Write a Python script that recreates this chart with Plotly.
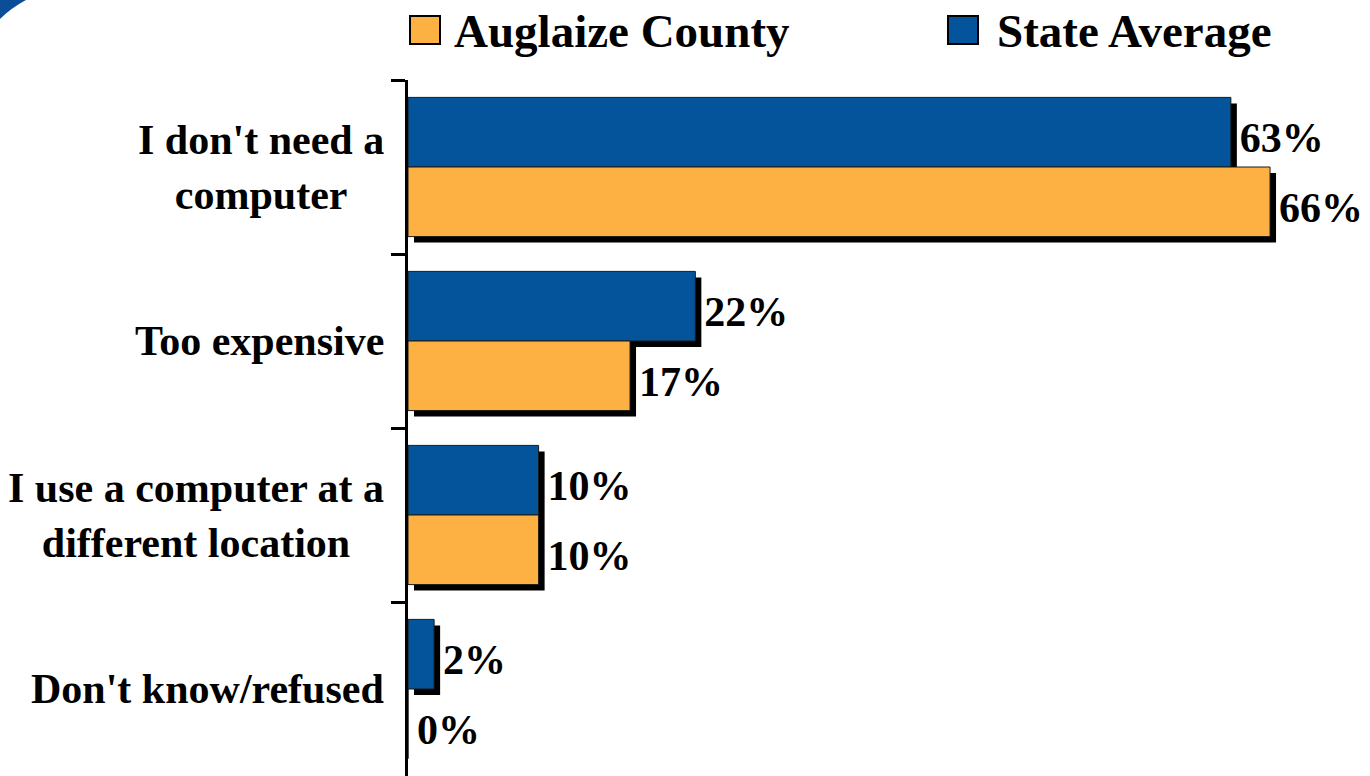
import plotly.graph_objects as go

# ---- data ----
categories = ["I don't need a<br>computer", "Too expensive",
              "I use a computer at a<br>different location", "Don't know/refused"]
state_avg = [63, 22, 10, 2]
auglaize = [66, 17, 10, 0]
series_names = ["Auglaize County", "State Average"]

# ---- style ----
BLUE = "#03549A"
ORANGE = "#FDB142"
FONT = "Liberation Serif"
W, H = 1370, 776
L, R, T, B = 408, 2, 80, 0
XMAX = 73.5
BAR_W = 0.40
SHADOW_DX = 6 / ((W - L - R) / XMAX)   # 6 px in data units
SHADOW_DY = 6 / ((H - T - B) / 4)      # 6 px in category units


def px(x):
    return (x - L) / (W - L - R)


def py(y):
    return (H - B - y) / (H - T - B)


fig = go.Figure()

specs = [(state_avg, BLUE, -BAR_W, series_names[1]),
         (auglaize, ORANGE, 0.0, series_names[0])]

# shadows (carry the value labels)
for vals, col, off, name in specs:
    fig.add_trace(go.Bar(
        y=categories, x=vals, base=[SHADOW_DX] * len(vals), orientation="h",
        width=BAR_W, offset=off + SHADOW_DY,
        marker=dict(color="black", line=dict(width=0)),
        text=[f"{v}%" for v in vals], textposition="outside",
        textfont=dict(family=FONT, size=42, color="black", weight=700),
        cliponaxis=False, showlegend=False, hoverinfo="skip"))

# main bars
for vals, col, off, name in specs:
    fig.add_trace(go.Bar(
        y=categories, x=vals, orientation="h", name=name,
        width=BAR_W, offset=off,
        marker=dict(color=col, line=dict(color="#1a1a1a", width=1)),
        showlegend=False))

annotations = []
for c in categories:
    annotations.append(dict(
        text=c, xref="paper", x=0, xanchor="right", xshift=-22,
        yref="y", y=c, yanchor="middle", align="center", showarrow=False,
        font=dict(family=FONT, size=42, color="black", weight=700)))

# manual legend
shapes = []
legend_items = [(series_names[0], ORANGE, 410, 452), (series_names[1], BLUE, 948, 995)]
for name, col, sx, tx in legend_items:
    shapes.append(dict(type="rect", xref="paper", yref="paper",
                       x0=px(sx), x1=px(sx + 30), y0=py(44), y1=py(16),
                       fillcolor=col, line=dict(color="black", width=2)))
    annotations.append(dict(
        text=name, xref="paper", x=px(tx), xanchor="left",
        yref="paper", y=py(31), yanchor="middle", showarrow=False,
        font=dict(family=FONT, size=47, color="black", weight=700)))

# corner swoosh
shapes.append(dict(type="path", xref="paper", yref="paper",
                   path=f"M {px(0)},{py(0)} L {px(26)},{py(0)} Q {px(11)},{py(8)} {px(0)},{py(19)} Z",
                   fillcolor="#0A4E98", line=dict(width=0)))

fig.update_layout(
    width=W, height=H, barmode="overlay",
    margin=dict(l=L, r=R, t=T, b=B, pad=0),
    paper_bgcolor="white", plot_bgcolor="white",
    showlegend=False,
    xaxis=dict(range=[0, XMAX], visible=False, fixedrange=True),
    yaxis=dict(type="category", categoryarray=categories, range=[3.5, -0.5],
               showticklabels=False, tickson="boundaries", ticks="outside",
               ticklen=14, tickwidth=3, tickcolor="black",
               showline=True, linewidth=3, linecolor="black",
               showgrid=False, zeroline=False, fixedrange=True),
    annotations=annotations, shapes=shapes,
)

fig.write_html("out.html", config={"displayModeBar": False},
               post_script="document.body.style.margin='0';document.body.style.overflow='hidden';")
